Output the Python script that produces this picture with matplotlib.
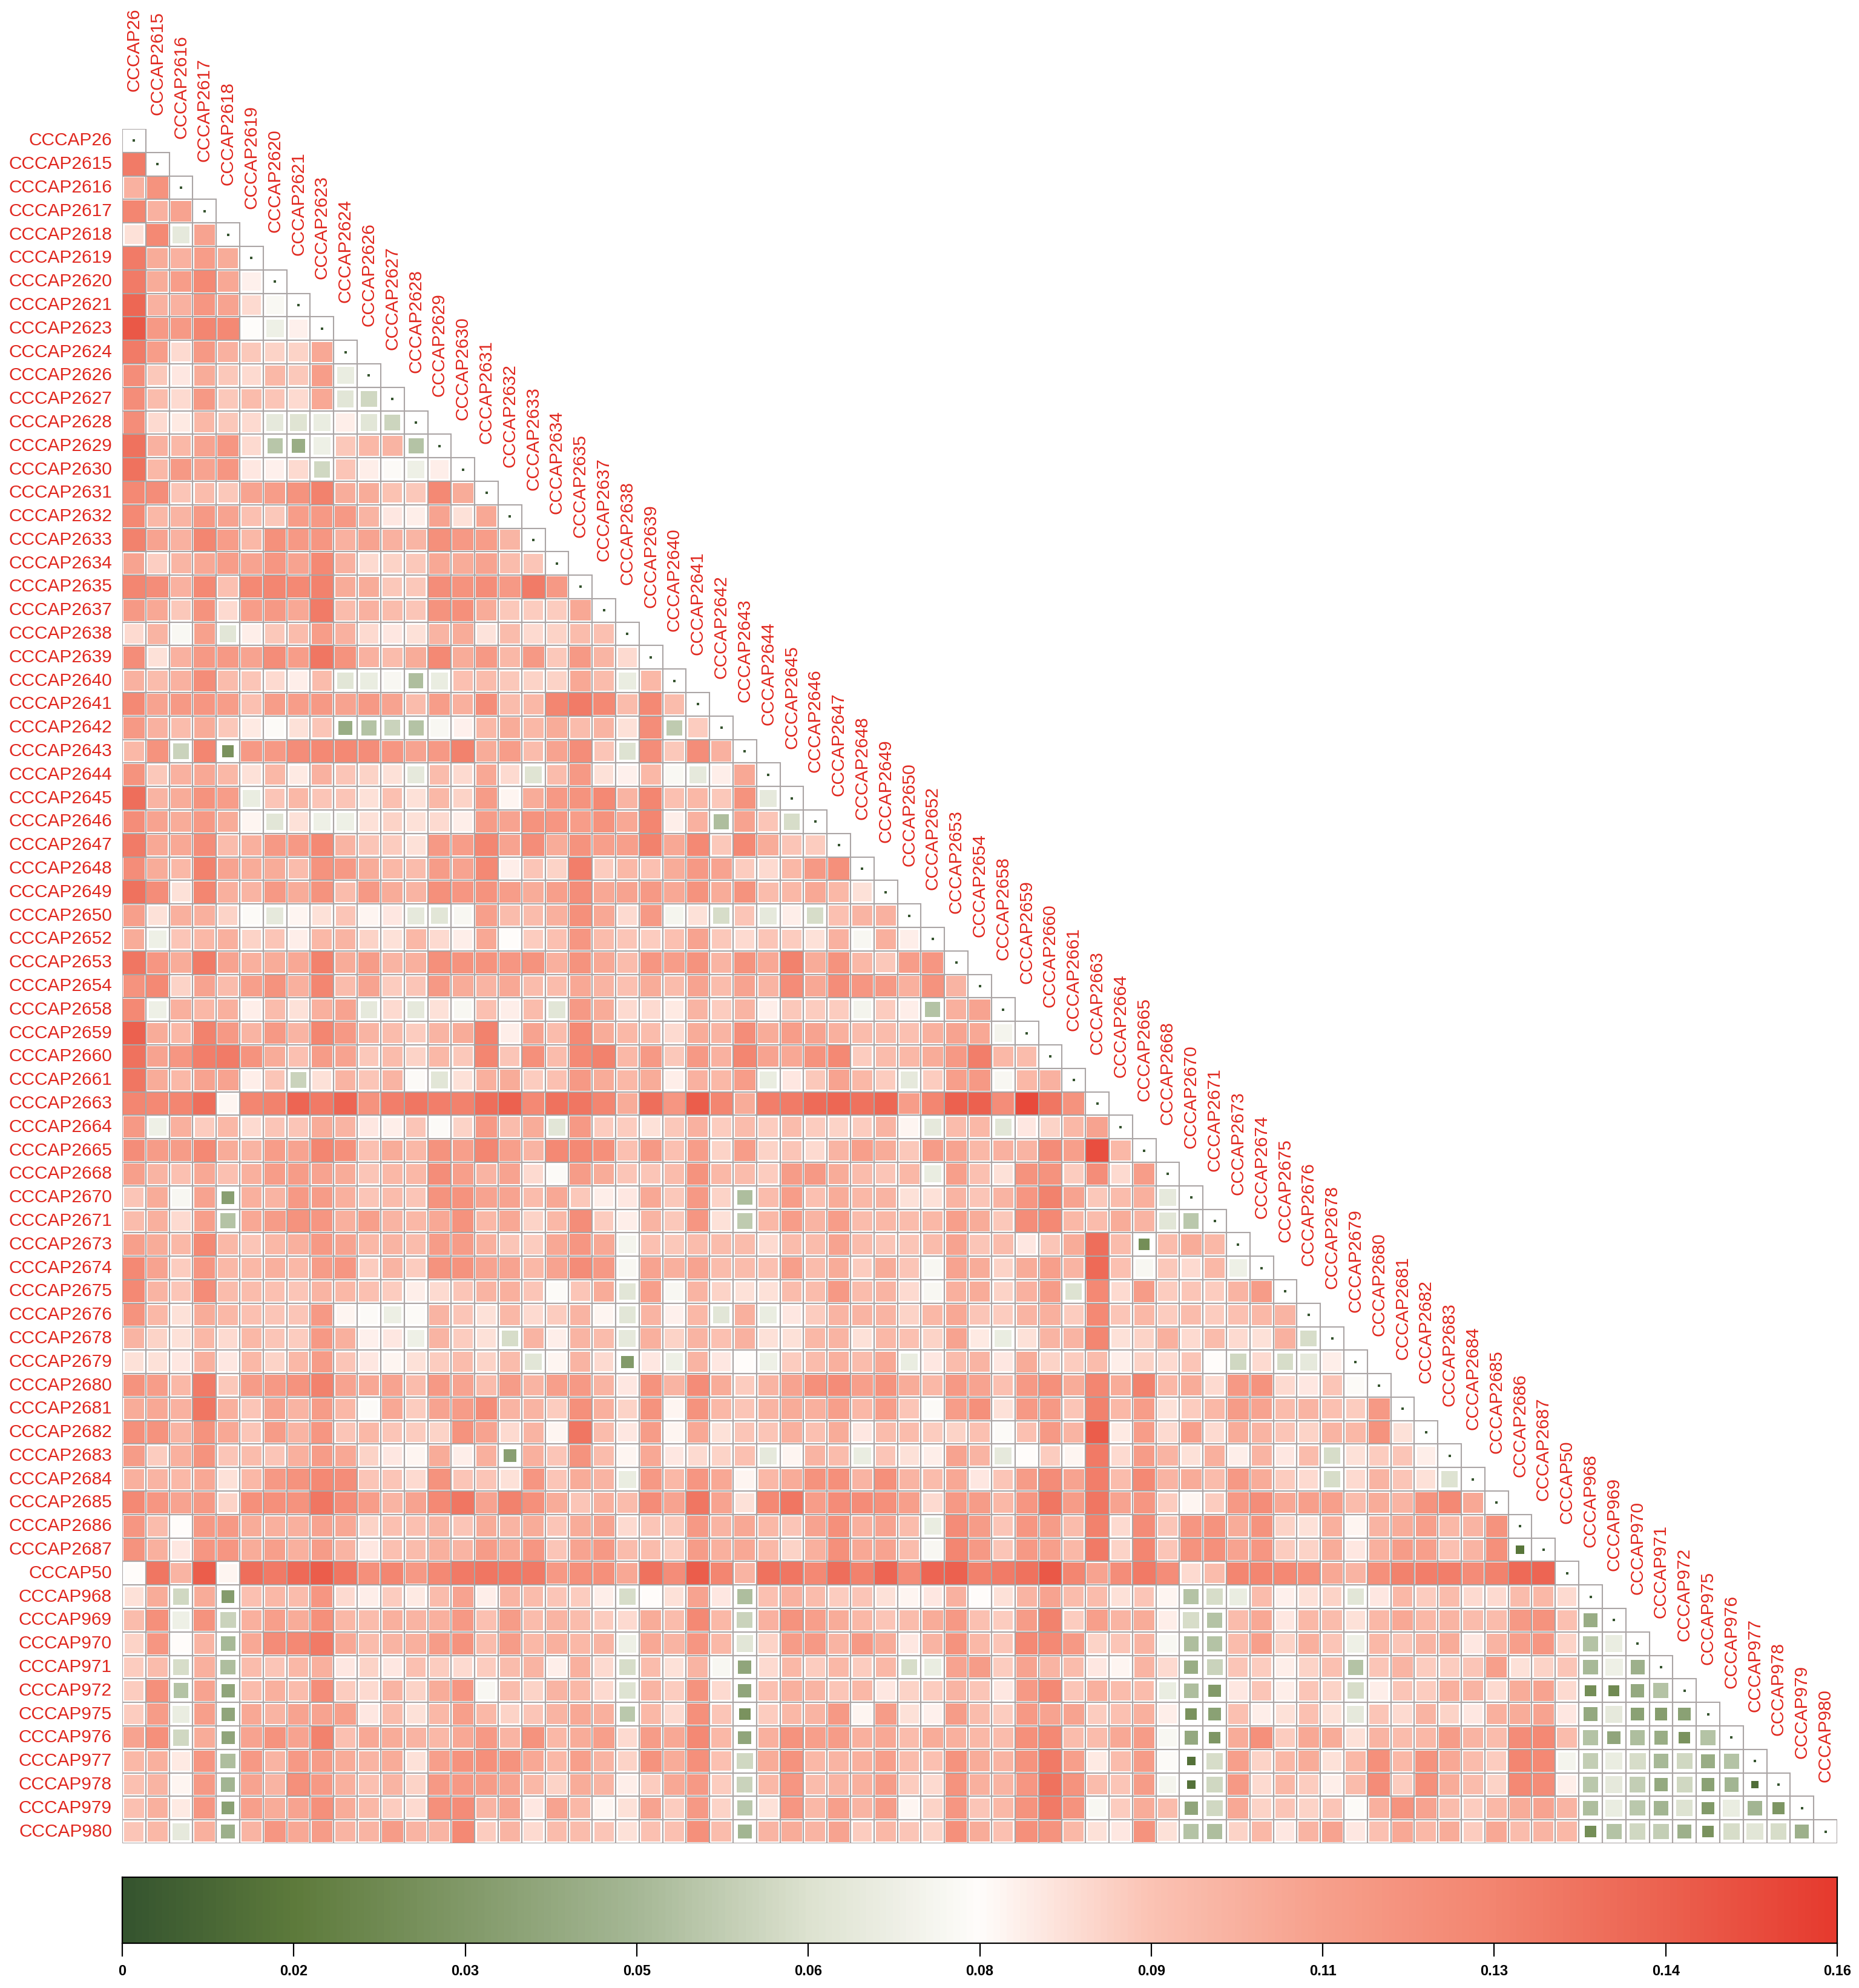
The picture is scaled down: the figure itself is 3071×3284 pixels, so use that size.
import matplotlib
matplotlib.use('Agg')
import matplotlib.pyplot as plt
import numpy as np
from matplotlib.colors import LinearSegmentedColormap
from matplotlib.patches import Rectangle

plt.rcParams['font.family'] = ['Liberation Sans', 'DejaVu Sans']

labels = ['26', '2615', '2616', '2617', '2618', '2619', '2620', '2621', '2623', '2624', '2626', '2627',
          '2628', '2629', '2630', '2631', '2632', '2633', '2634', '2635', '2637', '2638', '2639', '2640',
          '2641', '2642', '2643', '2644', '2645', '2646', '2647', '2648', '2649', '2650', '2652', '2653',
          '2654', '2658', '2659', '2660', '2661', '2663', '2664', '2665', '2668', '2670', '2671', '2673',
          '2674', '2675', '2676', '2678', '2679', '2680', '2681', '2682', '2683', '2684', '2685', '2686',
          '2687', '50', '968', '969', '970', '971', '972', '975', '976', '977', '978', '979', '980']
labels = ['CCCAP' + l for l in labels]

tick_values = [0, 0.0159, 0.0318, 0.0477, 0.0636, 0.0795, 0.0954, 0.1113, 0.1272, 0.1431, 0.159]
tick_labels = ['0', '0.02', '0.03', '0.05', '0.06', '0.08', '0.09', '0.11', '0.13', '0.14', '0.16']

# lower triangle, distance x 1000
rows = [
    [],
    [135],
    [105,122],
    [130,105,112],
    [88,128,68,112],
    [135,108,105,115,108],
    [135,108,115,128,110,83],
    [145,105,105,120,112,90,77],
    [152,118,118,130,128,79,72,83],
    [135,115,90,118,105,95,92,92,110],
    [125,95,86,108,95,90,102,95,115,70],
    [125,100,90,118,95,100,96,90,110,66,60],
    [125,90,85,102,95,90,68,65,70,84,66,59],
    [140,105,102,112,120,90,53,42,72,95,102,104,52],
    [140,102,118,112,120,86,83,90,60,96,84,78,72,84],
    [128,125,96,100,95,112,115,122,132,107,108,97,95,128,108],
    [128,102,104,118,112,98,95,115,118,118,104,86,84,112,88,110],
    [132,112,105,130,115,102,123,118,120,105,112,105,103,124,118,115,103],
    [112,93,103,110,115,112,120,112,128,105,90,92,95,110,108,112,100,96],
    [130,125,105,128,98,128,130,128,132,108,108,95,95,125,122,125,118,135,118],
    [118,110,95,122,90,115,118,110,135,100,105,100,96,122,124,108,95,94,94,110],
    [90,104,77,113,66,84,95,100,115,105,90,86,88,104,108,87,100,90,92,100,98],
    [125,88,105,118,118,112,125,115,138,122,105,100,108,128,108,118,102,118,95,118,103,90],
    [105,100,105,125,100,96,90,84,100,66,70,76,50,70,98,100,95,92,92,110,100,70,102],
    [128,112,118,120,115,98,115,115,118,112,118,112,100,115,106,125,100,102,130,135,128,100,128,100],
    [118,105,100,108,95,85,78,88,96,42,52,58,52,76,83,102,108,102,108,100,104,88,125,55,94],
    [102,122,58,130,28,118,118,125,128,128,125,120,112,118,132,108,115,100,112,125,96,64,125,95,125,105],
    [122,95,105,110,102,88,102,85,105,96,92,88,68,100,90,110,90,65,100,118,88,83,102,77,68,84,110],
    [142,104,108,122,115,70,96,102,96,96,88,98,88,102,92,116,82,108,118,122,128,104,130,98,102,95,122,68],
    [125,112,108,118,108,82,66,88,72,72,88,92,88,90,84,116,112,122,120,115,122,110,130,84,105,50,112,96,62],
    [135,110,110,125,100,106,118,118,128,104,96,94,88,118,115,130,112,125,108,122,114,114,132,110,128,95,128,108,96,94],
    [125,108,102,132,112,108,108,100,122,118,108,102,100,116,112,128,84,96,92,134,94,102,98,108,118,112,94,90,102,118,124],
    [140,125,88,130,106,104,118,108,122,100,118,108,104,124,120,122,115,108,114,125,110,112,118,110,122,108,122,100,102,110,102,88],
    [114,88,106,106,92,78,68,82,88,96,82,86,68,66,76,114,100,100,106,124,110,90,118,75,88,62,96,68,84,62,98,104,105],
    [108,72,96,102,106,92,96,84,102,104,92,88,102,90,84,110,80,94,98,120,100,96,94,98,112,95,90,96,94,88,105,76,106,84],
    [138,120,108,135,112,106,108,110,132,108,116,104,106,124,122,122,120,122,106,122,110,100,120,115,122,104,122,110,132,108,122,102,95,115,120],
    [122,128,92,112,100,114,122,106,130,100,112,94,96,118,108,104,110,100,100,110,104,98,108,100,112,100,112,104,126,110,125,120,118,106,122,104],
    [128,72,106,102,106,84,100,88,106,112,68,90,68,88,76,98,84,100,66,118,108,90,90,85,104,94,104,84,95,94,94,74,94,84,52,106,112],
    [148,108,102,132,118,104,118,104,130,118,104,100,94,104,108,132,84,112,100,128,108,102,100,90,108,104,125,108,115,112,106,100,100,98,106,112,110,74],
    [140,112,120,134,135,122,108,98,116,112,95,100,92,102,95,130,96,124,100,128,132,102,118,95,118,105,130,112,110,122,128,94,100,102,108,118,134,102,100],
    [138,108,102,112,112,84,96,58,88,104,96,104,78,66,88,106,108,94,98,118,108,102,108,84,105,102,115,70,86,95,112,102,94,68,94,114,118,76,102,105],
    [130,128,130,142,82,130,132,146,136,146,122,134,138,134,132,142,148,128,140,138,130,108,142,120,150,130,108,134,135,143,145,140,145,115,130,148,148,125,158,138,122],
    [118,72,106,94,102,90,96,96,108,104,86,84,96,78,92,118,100,108,66,118,94,94,88,95,105,94,100,94,100,94,92,94,104,82,68,100,102,66,86,92,102,112],
    [125,116,116,128,108,104,115,112,130,124,98,108,102,122,114,130,114,104,128,128,124,98,118,98,115,92,115,92,96,90,104,114,108,95,116,112,102,105,104,126,114,156,102],
    [114,104,98,110,98,106,115,116,112,108,96,102,102,125,114,104,112,90,78,116,108,96,96,100,122,102,100,94,116,118,108,100,96,102,70,114,98,88,122,122,94,125,90,115],
    [96,108,76,112,35,106,104,118,116,106,96,100,96,122,122,112,112,100,110,95,84,86,110,95,118,92,50,100,115,98,108,102,104,88,88,104,96,104,120,132,112,95,100,106,68],
    [100,106,90,114,52,110,116,122,120,106,114,104,102,110,122,102,110,92,102,125,94,84,104,95,120,88,55,102,115,104,115,100,102,100,102,114,108,95,125,128,102,100,108,104,66,54],
    [114,108,102,128,102,96,102,106,118,112,102,104,100,116,116,106,96,94,110,120,110,74,98,95,100,100,100,90,100,100,112,100,96,96,100,112,96,100,86,96,108,142,100,26,100,108,102],
    [128,112,94,120,102,102,106,102,116,120,94,104,94,122,122,112,112,102,112,126,118,76,112,106,112,100,100,98,114,100,108,94,108,96,76,112,108,92,108,114,104,144,98,76,95,90,102,72],
    [128,104,96,126,100,100,98,96,104,102,98,94,84,90,96,104,106,96,78,96,108,66,114,76,104,92,88,88,100,100,118,100,104,90,76,106,108,92,105,116,64,128,90,116,94,96,94,104,116],
    [122,102,88,108,102,98,96,96,118,82,78,71,78,104,96,88,102,90,94,104,82,66,104,83,102,66,106,70,86,94,104,104,104,92,102,110,96,94,104,106,94,128,96,102,94,100,94,98,102,104],
    [104,92,88,102,90,102,96,94,118,106,83,86,72,104,94,88,62,104,84,104,100,68,106,92,104,98,105,88,88,102,104,88,102,98,92,112,85,70,88,104,104,130,88,92,106,90,100,90,88,105,62],
    [88,88,86,106,86,102,92,102,116,96,86,82,88,94,100,92,100,66,82,104,90,32,86,72,104,86,80,72,94,100,106,100,110,70,86,100,104,86,108,92,94,100,84,92,90,96,80,60,90,62,68,84],
    [122,115,102,135,95,116,118,122,132,112,110,112,100,118,112,100,116,104,114,118,104,86,122,104,126,108,94,104,112,124,126,114,122,108,102,118,112,98,118,124,108,130,108,132,102,108,90,118,122,90,86,96,78],
    [108,110,105,138,106,96,112,104,116,102,78,110,94,112,116,126,104,104,94,124,106,92,122,82,122,102,96,104,108,106,114,102,115,96,78,115,124,88,118,118,96,132,102,115,88,94,102,116,112,100,104,98,94,118],
    [124,122,104,122,110,96,116,104,120,96,102,96,94,92,122,112,90,104,82,138,100,86,116,82,110,88,96,96,106,98,108,86,100,100,94,92,98,78,98,118,104,150,85,115,90,114,90,108,104,96,92,104,102,122,88],
    [116,94,106,122,96,100,96,106,116,110,92,86,82,108,84,106,35,106,96,122,100,82,110,86,90,92,98,68,82,104,100,70,96,88,84,112,104,68,80,94,82,136,90,116,104,88,106,84,104,86,100,62,88,94,96,84],
    [106,104,102,110,88,102,118,122,128,125,96,96,90,122,96,96,88,120,96,108,104,70,118,102,120,110,82,102,108,122,124,104,124,104,100,110,86,96,116,126,112,134,100,128,104,108,100,118,108,94,90,62,90,104,96,88,64],
    [128,120,112,118,92,124,124,122,138,126,115,104,112,128,138,112,132,124,108,96,106,100,126,112,138,112,88,128,138,115,126,126,124,114,90,118,116,102,120,138,116,138,112,120,94,82,94,118,125,110,114,114,100,108,104,122,128,110],
    [120,100,80,118,118,108,106,106,112,110,92,98,98,104,96,108,104,108,96,108,112,90,96,95,118,104,110,102,96,112,124,106,112,100,70,126,116,96,120,116,100,132,90,126,96,120,122,108,122,92,88,106,82,104,108,114,102,104,122],
    [122,106,86,120,120,108,114,106,116,104,86,98,100,106,104,116,110,120,96,112,118,100,100,94,116,106,110,102,92,106,124,110,112,100,76,130,118,96,118,114,102,136,92,130,96,122,124,112,120,94,92,108,86,106,116,114,98,104,124,14],
    [80,138,104,150,82,142,136,144,150,138,124,130,118,128,136,138,136,136,118,124,124,110,140,125,150,130,104,140,138,128,142,132,146,125,146,148,132,135,140,152,130,112,125,136,125,90,100,130,130,128,124,110,104,124,132,134,134,126,132,144,146],
    [88,108,60,108,33,98,102,100,120,90,84,94,85,100,112,84,104,100,96,94,84,62,80,88,112,86,50,98,105,100,94,96,88,82,86,105,80,88,104,112,100,100,88,96,82,52,62,70,100,83,88,92,66,86,102,94,100,90,90,100,102,90],
    [100,124,72,122,58,106,114,108,124,102,100,106,104,106,118,98,116,100,104,100,94,90,108,100,128,102,58,105,122,114,108,102,96,100,108,118,98,94,116,132,94,114,104,108,84,62,52,100,110,86,102,100,88,102,110,102,104,100,100,118,122,98,42],
    [92,120,80,104,48,110,126,128,136,110,100,104,106,116,122,100,116,102,106,102,104,72,110,104,120,102,66,92,116,118,104,118,108,86,104,122,102,96,128,128,118,92,96,104,76,50,52,100,114,92,106,96,72,102,96,104,108,86,104,114,120,92,52,70],
    [94,100,62,106,50,100,96,102,106,86,92,86,98,94,90,94,100,104,84,106,90,62,100,88,104,76,38,90,102,94,102,94,102,62,70,112,116,94,112,104,100,86,82,104,90,42,58,96,94,84,92,98,52,96,104,94,94,96,114,88,92,96,48,72,44],
    [94,124,52,112,38,100,106,100,125,94,90,104,92,108,120,76,100,92,104,102,90,64,104,94,122,90,38,98,106,104,96,102,86,92,94,104,96,86,118,128,96,106,100,100,70,50,32,86,96,84,96,92,62,84,96,94,106,104,90,108,112,90,26,24,40,52],
    [94,116,70,114,38,110,104,112,112,114,86,100,88,102,114,102,92,96,104,110,106,54,102,90,124,96,28,94,102,104,118,82,116,88,83,116,100,94,118,112,112,94,98,106,84,28,36,98,84,88,98,88,68,96,90,104,92,86,106,108,112,86,40,68,36,34,36],
    [112,124,60,108,38,112,122,112,132,98,110,108,104,102,110,118,104,122,102,108,114,90,116,110,128,102,38,106,122,114,116,106,110,100,108,106,102,100,124,128,100,100,110,116,76,40,30,108,124,94,110,108,88,104,100,102,116,104,100,126,128,100,52,38,50,42,28,52],
    [102,106,85,120,50,118,104,118,116,108,104,108,88,114,122,124,122,110,102,114,104,92,122,108,124,98,60,108,122,102,104,106,114,100,98,122,108,104,122,136,114,85,100,116,78,12,62,114,92,102,108,88,102,124,102,122,110,100,94,130,128,74,56,70,62,48,60,42,52],
    [98,104,82,118,46,112,104,124,118,106,98,104,92,118,118,116,112,102,92,108,104,84,94,110,118,94,58,102,120,100,104,106,116,94,90,122,106,104,120,140,122,100,96,116,74,12,60,118,90,102,94,84,100,126,94,124,108,100,92,128,126,84,54,68,56,40,60,36,46,10],
    [98,106,85,120,36,114,108,112,124,108,102,94,90,124,126,104,112,86,112,102,82,88,112,94,118,92,54,88,120,102,114,104,116,82,92,120,96,102,122,136,122,76,94,108,100,38,60,110,92,96,92,96,78,106,122,112,100,94,102,108,112,104,50,70,54,46,64,32,70,46,30],
    [96,102,68,106,44,104,120,110,116,104,104,116,104,104,128,94,104,90,100,100,96,88,98,98,124,100,46,104,108,104,112,94,102,96,92,124,108,98,124,122,102,88,86,122,88,52,50,92,102,86,104,112,86,98,110,102,108,94,110,100,104,102,26,52,60,56,44,28,62,66,62,44],
]

vmax = 0.159
stops = [(0.0, '#35542f'), (0.1, '#5e7b3c'), (0.3, '#a6b896'), (0.4, '#dde2d0'), (0.5, '#fffdfb'),
         (0.6, '#fbc3b4'), (0.7, '#f7a08c'), (0.8, '#f38570'), (0.9, '#ec6250'), (1.0, '#e63a2e')]
cmap = LinearSegmentedColormap.from_list('green_red', stops)

W, H = 3071, 3284
n = len(labels)
red = '#e0281f'
grid = '#aba5a5'

fig = plt.figure(figsize=(W/100, H/100), dpi=100)
ax = fig.add_axes([202/W, 1 - 3045/H, (3035 - 202)/W, (3045 - 213)/H])
ax.set_xlim(0, n)
ax.set_ylim(n, 0)
ax.axis('off')

for i, row in enumerate(rows):
    for j, val in enumerate(row):
        # my reds read a bit high against the colour bar
        if val > 80:
            val = 80 + (val - 80)*0.93
        v = val/1000
        side = min(1.03*(v/0.16)**0.42, 0.96)
        off = (1 - side)/2
        ax.add_patch(Rectangle((j + off, i + off), side, side, fc=cmap(v/vmax), ec='none', zorder=1))
    for j in range(i + 1):
        ax.add_patch(Rectangle((j, i), 1, 1, fc='none', ec=grid, lw=1.5, zorder=2))
    ax.plot(i + 0.5, i + 0.5, 's', ms=2.2, color='#35542f', mew=0, zorder=3)
    ax.text(-0.44, i + 0.5, labels[i], color=red, fontsize=21.5, ha='right', va='center', clip_on=False)
    ax.text(i + 0.5, i - 1.6, labels[i], color=red, fontsize=21.5, rotation=90, ha='center', va='bottom', clip_on=False)

# colour bar
cax = fig.add_axes([202/W, 1 - 3210/H, (3035 - 202)/W, (3210 - 3101)/H])
cax.imshow(np.linspace(0, 1, 512)[None, :], cmap=cmap, aspect='auto', extent=[0, vmax, 0, 1])
cax.set_yticks([])
cax.set_xticks(tick_values)
cax.set_xticklabels(tick_labels, fontsize=17, fontweight='bold')
cax.tick_params(axis='x', length=16, width=1.6, pad=9)
for s in cax.spines.values():
    s.set_linewidth(1.6)

fig.savefig('out.png', dpi=100)
